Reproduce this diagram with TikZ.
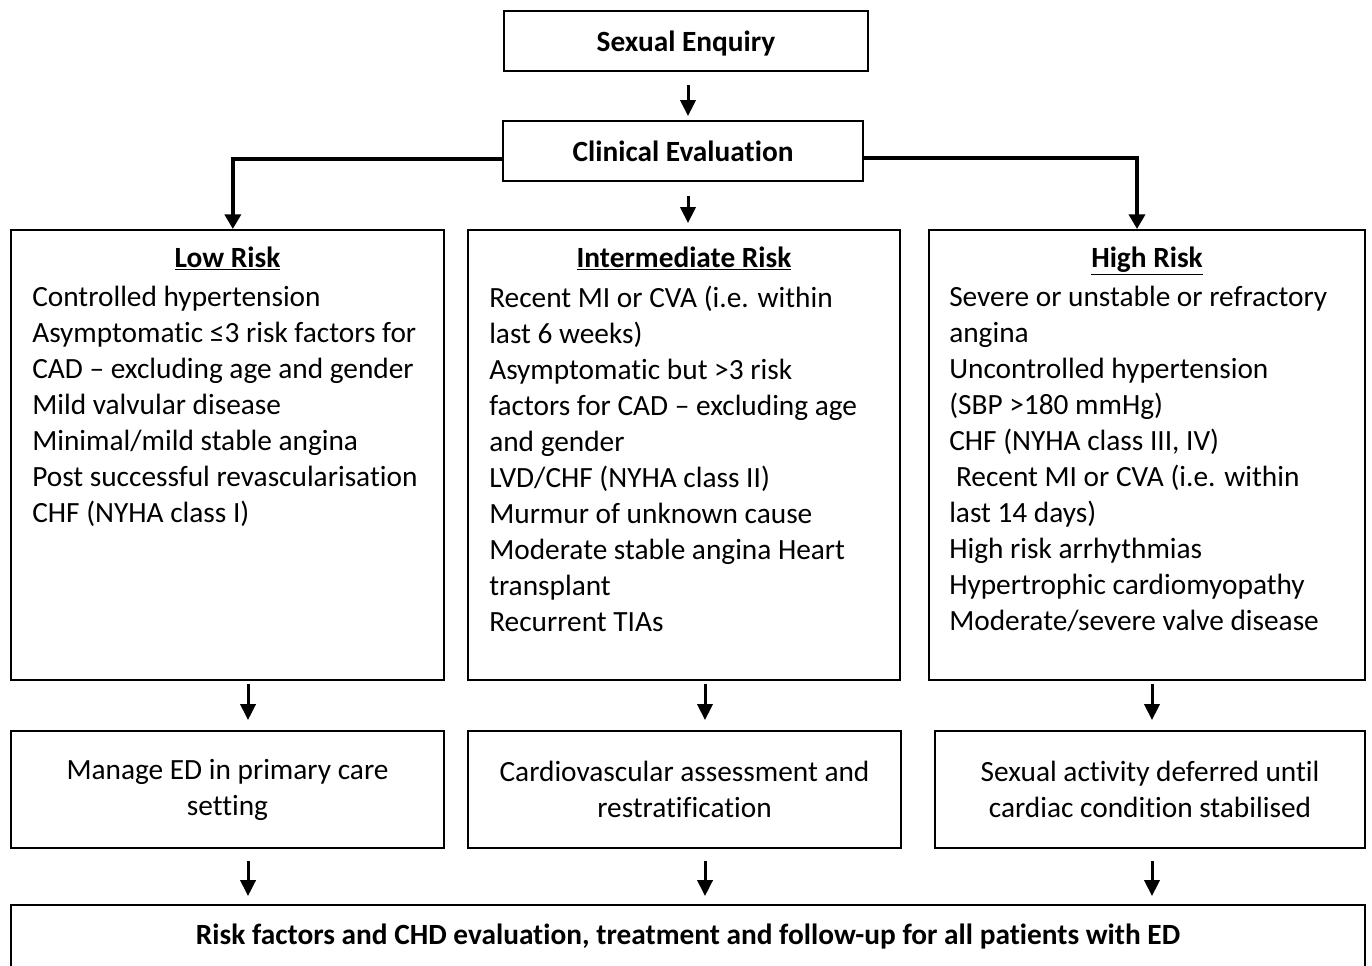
\documentclass[tikz,border=0pt]{standalone}
\usepackage{fontspec}
\setmainfont{Carlito}[Ligatures=NoCommon]
\usetikzlibrary{arrows.meta,positioning}

\tikzset{
  box/.style={draw, line width=1.5pt, inner sep=0pt, align=center},
  arr/.style={line width=2.25pt, -{Triangle[length=12pt, width=11.5pt]}},
  heavyarr/.style={line width=3pt, -{Triangle[length=11pt, width=12pt]}},
  heading/.style={anchor=base},
  items/.style={align=left, anchor=north west, inner sep=0pt},
}

\begin{document}
\begin{tikzpicture}[x=0.75pt, y=-0.75pt, font=\fontsize{22}{27}\selectfont]
        \useasboundingbox (0,0) rectangle (1372,965);
        % top of the chart
        \node[box, minimum width=273pt, minimum height=45pt, text depth=0pt] (enquiry) at (686,41) {\textbf{Sexual Enquiry}};
        \node[box, minimum width=270pt, minimum height=45pt] (clinical) at (683,151) {\textbf{Clinical Evaluation}};
        % risk groups
        \node[box, minimum width=324.75pt, minimum height=337.5pt] (low)  at (227.5,455) {};
        \node[box, minimum width=324pt,    minimum height=337.5pt] (mid)  at (684,455)   {};
        \node[box, minimum width=327pt,    minimum height=337.5pt] (high) at (1147,455)  {};
        \node[heading] (lowhead)  at ([yshift=-28.5pt]low.north)  {\underline{\textbf{Low Risk}}};
        \node[heading] (midhead)  at ([yshift=-28.5pt]mid.north)  {\underline{\textbf{Intermediate Risk}}};
        \node[heading] (highhead) at ([yshift=-28.5pt]high.north) {\underline{\textbf{High Risk}}};
        \node[items] (lowlist) at ([xshift=16.5pt, yshift=-42.75pt]low.north west)
        {Controlled hypertension\\
         Asymptomatic ≤3 risk factors for\\
         CAD -- excluding age and gender\\
         Mild valvular disease\\
         Minimal/mild stable angina\\
         Post successful revascularisation\\
         CHF (NYHA class I)};
        \node[items] (midlist) at ([xshift=16.5pt, yshift=-42.75pt]mid.north west)
        {Recent MI or CVA (i.e. within\\
         last 6 weeks)\\
         Asymptomatic but >3 risk\\
         factors for CAD -- excluding age\\
         and gender\\
         LVD/CHF (NYHA class II)\\
         Murmur of unknown cause\\
         Moderate stable angina Heart\\
         transplant\\
         Recurrent TIAs};
        \node[items] (highlist) at ([xshift=15.75pt, yshift=-42.75pt]high.north west)
        {Severe or unstable or refractory\\
         angina\\
         Uncontrolled hypertension\\
         (SBP >180 mmHg)\\
         CHF (NYHA class III, IV)\\
         \hspace*{0.23em}Recent MI or CVA (i.e. within\\
         last 14 days)\\
         High risk arrhythmias\\
         Hypertrophic cardiomyopathy\\
         Moderate/severe valve disease};
        % actions
        \node[box, minimum width=324.75pt, minimum height=87.75pt] (lowact)  at (227.5,789.5)
        {Manage ED in primary care\\setting};
        \node[box, minimum width=324.75pt, minimum height=87.75pt] (midact)  at (684.5,789.5)
        {Cardiovascular assessment and\\restratification};
        \node[box, minimum width=322.5pt,  minimum height=87.75pt] (highact) at (1150,789.5)
        {Sexual activity deferred until\\cardiac condition stabilised};
        % follow-up for everyone
        \node[box, minimum width=1015.5pt, minimum height=47.25pt] (followup) at (688,936.5)
        {\textbf{Risk factors and CHD evaluation, treatment and follow-up for all patients with ED}};

        % arrows
        \draw[arr, shorten <=9.75pt, shorten >=3pt] ([xshift=1.5pt]enquiry.south) -- ([xshift=1.5pt]enquiry.south |- clinical.north);
        \draw[arr, shorten <=10.5pt, shorten >=4.5pt] ([xshift=3.75pt]clinical.south) -- ([xshift=3.75pt]clinical.south |- mid.north);
        \draw[heavyarr] ([yshift=-6pt]clinical.west) -| ([xshift=4pt]low.north);
        \draw[heavyarr] ([yshift=-5.25pt]clinical.east) -| ([xshift=-7.5pt]high.north);
        \draw[arr, shorten <=2.25pt, shorten >=7.5pt] ([xshift=15.4pt]low.south)   -- ([xshift=15.4pt]low.south |- lowact.north);
        \draw[arr, shorten <=2.25pt, shorten >=7.5pt] ([xshift=15.75pt]mid.south)  -- ([xshift=15.75pt]mid.south |- midact.north);
        \draw[arr, shorten <=2.25pt, shorten >=7.5pt] ([xshift=3.75pt]high.south)  -- ([xshift=3.75pt]high.south |- highact.north);
        \draw[arr, shorten <=9pt, shorten >=6pt] ([xshift=15.4pt]lowact.south)   -- ([xshift=15.4pt]lowact.south |- followup.north);
        \draw[arr, shorten <=9pt, shorten >=6pt] ([xshift=15.4pt]midact.south)   -- ([xshift=15.4pt]midact.south |- followup.north);
        \draw[arr, shorten <=9pt, shorten >=6pt] ([xshift=1.5pt]highact.south)   -- ([xshift=1.5pt]highact.south |- followup.north);
\end{tikzpicture}
\end{document}
